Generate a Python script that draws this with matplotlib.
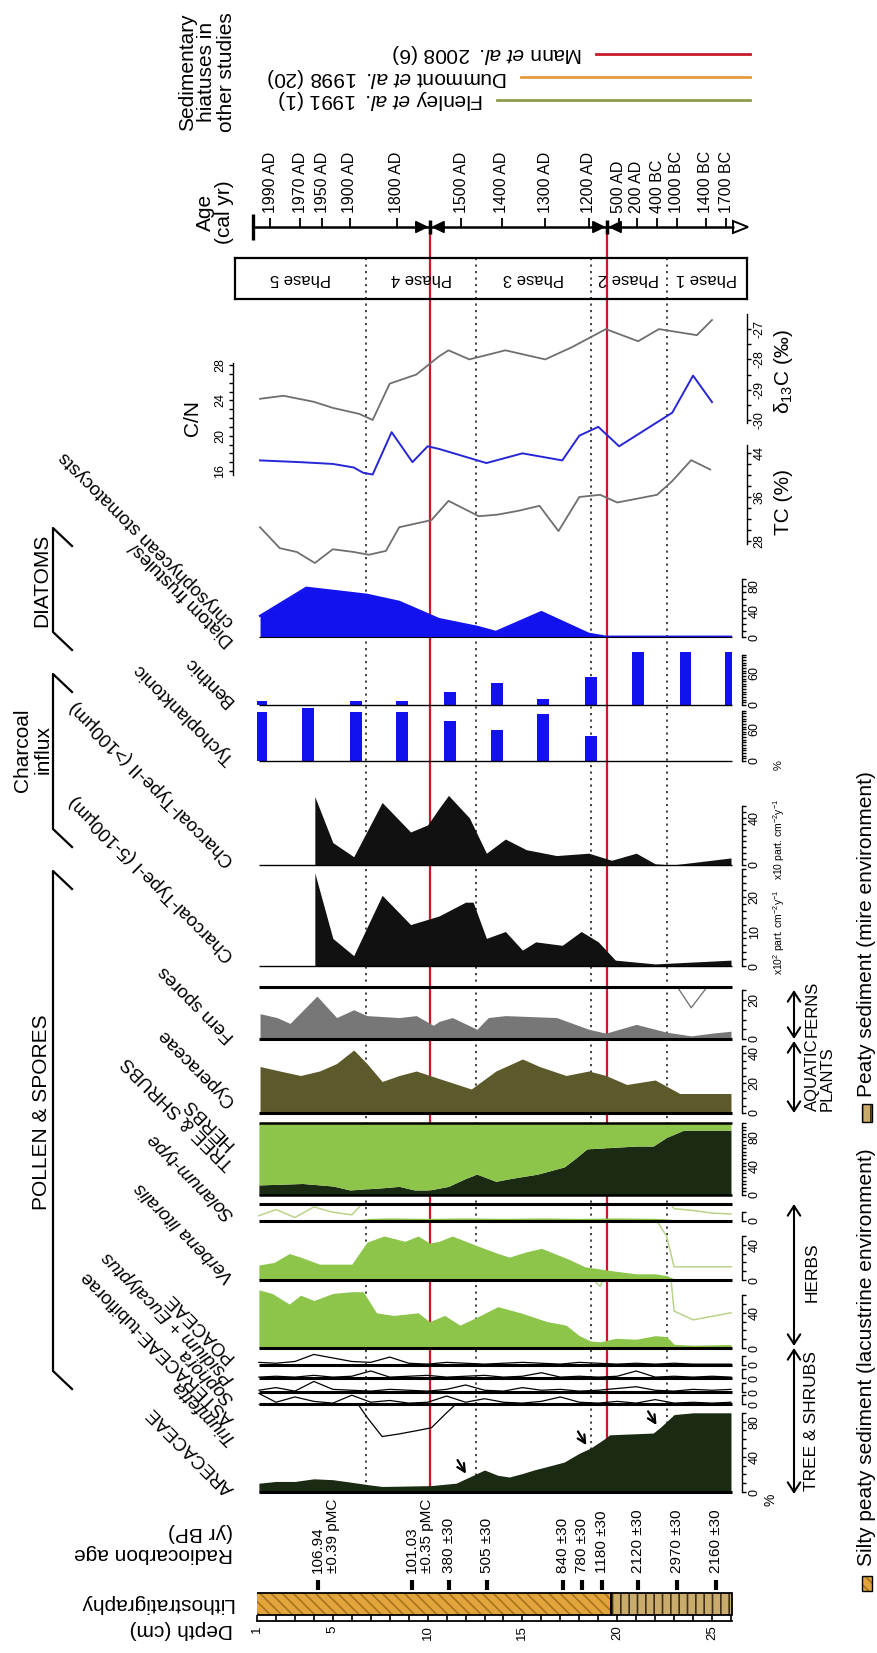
import numpy as np
import matplotlib
matplotlib.use("Agg")
import matplotlib.pyplot as plt
from matplotlib.patches import Polygon, Rectangle

plt.rcParams["font.family"] = ["Liberation Sans", "DejaVu Sans"]
plt.rcParams["mathtext.fontset"] = "custom"
plt.rcParams["mathtext.rm"] = "Liberation Sans"
plt.rcParams["mathtext.it"] = "Liberation Sans:italic"
plt.rcParams["axes.unicode_minus"] = False
plt.rcParams["hatch.linewidth"] = 1.2

# ---------------- data (depth in cm) ----------------
arec_depth = [1.1, 2, 3, 4, 5, 6, 6.8, 7.6, 8.5, 9.5, 10.2, 11, 11.5, 12.4, 13, 13.7, 14.3, 15, 15.6, 16.5,
              17.2, 18, 18.6, 19.3, 19.6, 21.9, 22.3, 23, 24, 26]
arec = [10, 12, 12, 15, 14, 11, 8.5, 6.3, 6.6, 7, 7.3, 9, 10, 19, 25, 19, 17, 21, 25, 30,
        34, 44, 50, 60, 65, 67, 74, 88, 90, 90]

thin_depth = [1.1, 2, 3, 4, 5, 6, 7, 8, 9, 10, 11, 12, 13, 14, 15, 16, 17, 18, 19, 20, 21, 22, 23, 24, 25, 26]
triumfetta = [12, 2, 8, 3, 1, 10, 2, 4, 1, 2, 9, 2, 6, 2, 1, 3, 8, 2, 1, 3, 1, 5, 1, 2, 1, 2]
asteraceae = [2, 5, 1, 12, 3, 2, 1, 3, 2, 1, 3, 8, 2, 1, 5, 2, 3, 1, 2, 4, 6, 2, 1, 3, 2, 3]
sophora = [1, 2, 1, 3, 1, 2, 8, 1, 2, 3, 1, 2, 3, 1, 2, 6, 1, 2, 1, 2, 8, 1, 2, 1, 2, 1]
psidium = [3, 2, 4, 12, 8, 4, 3, 9, 2, 1, 3, 2, 1, 2, 3, 2, 1, 3, 2, 1, 2, 1, 2, 1, 1, 1]

poa_depth = [1.1, 1.8, 2.7, 3.3, 4, 5, 6, 6.6, 7.3, 8.2, 9.5, 10.1, 10.9, 11.7, 12.6, 13.7, 14.9, 16.3, 17.3, 18,
             18.6, 19.1, 19.9, 21, 22, 22.6, 23, 24, 25, 26]
poaceae = [66, 62, 50, 60, 54, 62, 64, 64, 40, 37, 40, 30, 37, 26, 35, 47, 40, 30, 26, 14,
           8, 7, 11, 10, 14, 13, 4.2, 3.2, 3.6, 4.0]

verb_depth = [1.1, 1.9, 2.7, 3.3, 4.3, 6, 6.8, 7.7, 8.8, 9.5, 10.1, 10.6, 11.3, 12.6, 13.6, 14.3, 15.2, 16, 17.4, 18.3,
              19.9, 21, 22, 22.6, 23, 24, 25, 26]
verbena = [17, 20, 30, 26, 18, 18, 43, 50, 44, 50, 42, 44, 50, 39, 31, 26, 32, 36, 24, 15,
           10, 7, 7, 5, 1.5, 1.5, 1.5, 1.5]

sol_depth = [1.1, 2, 3, 4, 5, 6, 7, 8, 10, 12, 14, 16, 18, 20, 22, 22.6, 23, 24, 25, 26]
solanum = [0.6, 1.3, 0.4, 1.6, 1.0, 0.7, 3, 3.5, 3, 3.5, 3, 3.5, 3, 3.5, 3, 2.5, 1.4, 1.2, 0.9, 0.8]

tree_depth = [1.1, 2.3, 3.4, 5, 5.9, 7.6, 8.5, 9.3, 10.1, 11.1, 12.0, 12.6, 13.6, 14.4, 15.8, 17.2, 17.8, 18.4,
              21.0, 21.9, 22.6, 23.5, 26]
trees = [14, 15, 16, 12.5, 7, 10, 12, 7, 7, 12, 23, 29, 19, 23, 29, 39, 51, 64, 68, 68, 80, 90, 90]

cyp_depth = [1.16, 2.2, 3.3, 4.3, 5.2, 6.1, 6.8, 7.6, 8.5, 9.4, 10.6, 12.3, 13.6, 15.0, 15.9, 17.3, 18.5, 19.4,
             20.5, 22.0, 23.3, 26]
cyperaceae = [31, 28, 25, 28, 33, 42, 33, 21, 25, 28, 23, 16, 28, 36, 31, 25, 28, 25, 19, 22, 13, 13]

fern_depth = [1.16, 2.05, 2.74, 4.16, 5.2, 6.1, 6.8, 8.5, 9.4, 10.3, 10.6, 11.3, 12.6, 13.2, 14.1, 16.8, 18.5, 19.4,
              21.0, 22.6, 23.9, 25, 26]
ferns = [13, 11, 8, 22, 11, 15, 12, 11, 12, 7, 9, 11, 5, 11, 12, 11, 5, 3, 7.5, 3.5, 1.6, 3, 4]

ch1_depth = [4.05, 5.0, 6.1, 7.6, 9.1, 10.6, 12.0, 12.4, 13.1, 14.1, 15.0, 15.7, 17.1, 18.1, 19.0, 19.9, 22.0, 26]
charcoal1 = [27, 8, 3, 20.5, 12, 14.5, 18.5, 18.5, 8, 10, 4.6, 7, 6, 10, 7, 1.7, 0.6, 1.7]
ch2_depth = [4.05, 5.0, 6.1, 7.6, 9.1, 10.0, 10.6, 11.1, 12.2, 13.1, 14.1, 15.2, 16.8, 18.5, 19.7, 21.0, 22.0, 22.9, 26]
charcoal2 = [58, 19, 7, 53, 28, 34, 48, 59, 40, 10, 22, 13, 8, 10, 4, 10, 1, 0, 6]

bar_depth = [1.2, 3.7, 6.2, 8.65, 11.2, 13.65, 16.1, 18.6, 21.1, 23.6, 26.0]
tycho = [93, 100, 93, 93, 75, 58, 89, 48, 0, 0, 0]
benthic = [7, 0, 7, 7, 25, 42, 11, 52, 100, 100, 100]

diat_depth = [1.16, 3.6, 6.8, 8.5, 10.6, 12.6, 13.6, 16.0, 18.5, 19.4, 26]
diatoms = [33, 77, 66, 55, 28, 16, 8, 39, 5, 0.5, 0.5]

tc_depth = [1.16, 2.2, 3.1, 4.05, 5.0, 6.1, 6.9, 7.8, 8.5, 10.2, 11.1, 12.7, 13.7, 14.8, 15.9, 16.9, 18.0, 19.1,
            20.0, 22.1, 22.9, 23.9, 24.9]
tc = [30.5, 26.7, 26, 24, 26.5, 26, 25.5, 26.2, 30.5, 31.8, 35.3, 32.5, 32.8, 33.5, 34.4, 29.8, 36, 36.4,
      35, 36.4, 38.9, 42.7, 41]
cn_depth = [1.16, 3.3, 5.0, 6.1, 6.6, 7.1, 8.1, 9.2, 10.0, 10.6, 13.1, 15.0, 17.1, 18.0, 19.0, 20.1, 22.9, 24.0, 25.0]
cn = [17.2, 17, 16.8, 16.4, 15.8, 15.6, 20.4, 17, 18.8, 18.5, 16.9, 18, 17.2, 20, 21, 18.8, 22.6, 26.8, 23.8]
d13_depth = [1.16, 2.4, 4.0, 5.0, 6.4, 7.1, 8.0, 9.4, 10.6, 11.1, 12.2, 14.1, 16.2, 17.6, 19.4, 21.1, 22.2, 24.2, 25.0]
d13c = [-29.3, -29.2, -29.4, -29.6, -29.8, -30, -28.8, -28.5, -27.9, -27.7, -28.0, -27.7, -28, -27.6, -27.0,
        -27.4, -27.0, -27.2, -26.7]

age_depth = [1.69, 3.27, 4.43, 5.9, 8.38, 11.76, 13.92, 16.19, 18.51, 20.09, 21.04, 22.1, 23.15, 24.68, 25.74]
age_labels = ["1990 AD", "1970 AD", "1950 AD", "1900 AD", "1800 AD", "1500 AD", "1400 AD", "1300 AD", "1200 AD",
              "500 AD", "200 AD", "400 BC", "1000 BC", "1400 BC", "1700 BC"]
rc_depth = [4.22, 9.18, 11.13, 13.13, 17.14, 18.14, 19.2, 21.1, 23.15, 25.2]
rc_labels = ["106.94\n±0.39 pMC", "101.03\n±0.35 pMC", "380 ±30", "505 ±30", "840 ±30", "780 ±30",
             "1180 ±30", "2120 ±30", "2970 ±30", "2160 ±30"]
phase_bounds = [6.75, 12.55, 18.6, 22.6]
phase_names = ["Phase 5", "Phase 4", "Phase 3", "Phase 2", "Phase 1"]
hiatus_depth = [10.12, 19.46]
litho_bounds = [0.9, 19.67, 26.05]
arrow_depth = [12.1, 18.45, 22.15]
EXAG = 10

# ---------------- colours ----------------
DARK = "#1b2a12"
LGREEN = "#8cc54a"
EXGREEN = "#b9d48a"
OLIVE = "#5c5a2a"
GREY = "#777777"
BLUE = "#1212ee"
RED = "#c8192b"

W, H = 878, 1653
X_D1, PX_CM = 257, 18.96
PT = 0.72


def dep(px):
    return 1 + (px - X_D1) / PX_CM


fig = plt.figure(figsize=(W / 100, H / 100), dpi=100)


def add_ax(top, bottom, left=257, right=742, z=1):
    ax = fig.add_axes([left / W, 1 - bottom / H, (right - left) / W, (bottom - top) / H], zorder=z)
    ax.patch.set_visible(False)
    ax.set_xlim(dep(left), dep(right))
    for s in ax.spines.values():
        s.set_visible(False)
    ax.set_xticks([])
    ax.set_yticks([])
    return ax


def value_axis(ax, ticks, labels, side="right", offset=0):
    sp = ax.spines[side]
    sp.set_visible(True)
    sp.set_linewidth(1.0)
    sp.set_bounds(ticks[0], ticks[-1])
    if offset:
        sp.set_position(("outward", offset * PT))
    ax.yaxis.set_ticks_position(side)
    ax.set_yticks(ticks)
    ax.set_yticklabels([f"{t:g}" if t in labels else "" for t in ticks])
    ax.tick_params(axis="y", direction="out", length=4 * PT, width=1, pad=2, labelsize=9, labelrotation=90)
    for t in ax.get_yticklabels():
        t.set_va("center")


def panel(base, top, scale, ticks, labels, base_lw=2.2):
    ax = add_ax(top, base)
    ax.set_ylim(0, (base - top) / scale)
    value_axis(ax, ticks, labels)
    ax.hlines(0, 1.1, 26.05, color="k", lw=base_lw, zorder=4, clip_on=False)
    return ax


def top_line(ax, lw=2.2):
    ax.hlines(ax.get_ylim()[1], 1.1, 26.05, color="k", lw=lw, zorder=4, clip_on=False)


# ---------------- background lines (hiatuses, phase limits) ----------------
bg = add_ax(214, 1492, left=235, right=747, z=-1)
bg.set_ylim(1492, 214)
bg.vlines(hiatus_depth, 227, 1492, color=RED, lw=1.6)
bg.vlines(phase_bounds, 258, 1492, colors="#333333", linestyles=(0, (1.2, 2.4)), lw=1.3)

# ---------------- pollen ----------------
ax = panel(1492, 1404, 0.88, list(range(0, 100, 10)), [0, 40, 80])
ax.fill_between(arec_depth, 0, arec, color=DARK, lw=0)
ax.plot(arec_depth, np.array(arec) * EXAG, color="k", lw=0.9)
for d in arrow_depth:
    v = np.interp(d, arec_depth, arec)
    ax.annotate("", xy=(d, v + 2), xytext=(d - 0.6, v + 23),
                arrowprops=dict(arrowstyle="->", lw=1.6, mutation_scale=14), annotation_clip=False)

for (base, top), vals in zip([(1404, 1392), (1392, 1378), (1378, 1365), (1365, 1348)],
                             [triumfetta, asteraceae, sophora, psidium]):
    ax = panel(base, top, 0.88, [0, 10], [0])
    ax.plot(thin_depth, vals, color="k", lw=0.9)

ax = panel(1348, 1280, 0.88, list(range(0, 70, 10)), [0, 40])
ax.fill_between(poa_depth, 0, poaceae, color=LGREEN, lw=0)
ax.plot(poa_depth, np.array(poaceae) * EXAG, color=EXGREEN, lw=1.1)

ax = panel(1280, 1221, 0.88, list(range(0, 60, 10)), [0, 40])
ax.fill_between(verb_depth, 0, verbena, color=LGREEN, lw=0)
ax.plot(verb_depth, np.array(verbena) * EXAG, color=EXGREEN, lw=1.1)

ax = panel(1221, 1204, 0.88, [0, 10], [0])
ax.fill_between(sol_depth, 0, solanum, color=LGREEN, lw=0)
ax.plot(sol_depth, np.array(solanum) * EXAG, color=EXGREEN, lw=1.1)
top_line(ax)

ax = panel(1195, 1123, 0.72, list(range(0, 105, 5)), [0, 40, 80], base_lw=1.8)
ax.fill_between(tree_depth, 0, trees, color=DARK, lw=0)
ax.fill_between(tree_depth, trees, 100, color=LGREEN, lw=0)
top_line(ax, lw=1.8)

ax = panel(1113, 1039, 1.5, list(range(0, 50, 5)), [0, 20, 40])
ax.fill_between(cyp_depth, 0, cyperaceae, color=OLIVE, lw=0)

ax = panel(1039, 987, 1.95, list(range(0, 30, 5)), [0, 20])
ax.fill_between(fern_depth, 0, ferns, color=GREY, lw=0)
ax.plot(fern_depth, np.array(ferns) * EXAG, color=GREY, lw=1.0)
top_line(ax)

# ---------------- charcoal ----------------
ax = panel(966, 865, 3.45, list(range(0, 30, 2)), [0, 10, 20], base_lw=1.0)
ax.fill_between(ch1_depth, 0, charcoal1, color="#111111", lw=0)
ax = panel(865, 761, 1.18, list(range(0, 55, 5)), [0, 40], base_lw=1.0)
ax.fill_between(ch2_depth, 0, charcoal2, color="#111111", lw=0)

# ---------------- diatoms ----------------
for (base, top), vals in zip([(761, 708), (705, 652)], [tycho, benthic]):
    ax = panel(base, top, 0.53, list(range(0, 100, 5)), [0, 60], base_lw=1.0)
    bars = ax.bar(bar_depth, vals, width=0.63, color=BLUE, lw=0)
    clip = Rectangle((1, 0), 25.05, 200, transform=ax.transData)
    for b in bars:
        b.set_clip_path(clip)

ax = panel(637, 575, 0.64, list(range(0, 100, 10)), [0, 40, 80], base_lw=0.8)
ax.fill_between(diat_depth, 0, diatoms, color=BLUE, lw=0)
ax.plot(diat_depth, diatoms, color=BLUE, lw=1.6)

# ---------------- geochemistry ----------------
def calib_ax(row0, v0, pxu, top=300, bottom=600):
    a = add_ax(top, bottom)
    a.set_ylim(v0 - (bottom - row0) / pxu, v0 + (row0 - top) / pxu)
    return a


gt = calib_ax(541, 28, 5.5)
gt.plot(tc_depth, tc, color="#6f6f6f", lw=1.3)
value_axis(gt, list(range(28, 46, 2)), [28, 36, 44], offset=5)
gt.spines["right"].set_bounds(27.5, 45.5)

gc = calib_ax(471, 16, 8.83)
gc.plot(cn_depth, cn, color="#2626d6", lw=1.4)
value_axis(gc, list(range(16, 29)), [16, 20, 24, 28], side="left", offset=24)
gc.spines["left"].set_bounds(15.5, 28.2)

gd = calib_ax(420, -30, 30.3)
gd.plot(d13_depth, d13c, color="#6f6f6f", lw=1.3)
value_axis(gd, list(np.arange(-30, -26.9, 0.5)), [-30, -29, -28, -27], offset=5)
gd.spines["right"].set_bounds(-30.1, -26.5)

# ---------------- phases ----------------
ph = add_ax(258, 299, left=235, right=747)
for s in ph.spines.values():
    s.set_visible(True)
    s.set_linewidth(1.6)
edges = [ph.get_xlim()[0]] + phase_bounds + [ph.get_xlim()[1]]
for name, a, b in zip(phase_names, edges[:-1], edges[1:]):
    ph.text((a + b) / 2, 0.5, name, rotation=180, ha="center", va="center", fontsize=12)

# ---------------- age axis ----------------
ag = add_ax(200, 245, left=235, right=760)
ag.set_ylim(245, 200)
ag.hlines(227, dep(253), dep(734), color="k", lw=1.8)
ag.vlines(dep(253), 214, 240, color="k", lw=2.4)
ag.vlines(age_depth, 218, 227, color="k", lw=1.3)
ag.add_patch(Polygon([(dep(733), 221), (dep(748), 227), (dep(733), 233)], closed=True,
                     fc="white", ec="k", lw=1.4))
for h in hiatus_depth:
    ag.add_patch(Polygon([(h - 0.75, 221.5), (h - 0.15, 227), (h - 0.75, 232.5)], closed=True, fc="k", ec="k"))
    ag.add_patch(Polygon([(h + 0.75, 221.5), (h + 0.15, 227), (h + 0.75, 232.5)], closed=True, fc="k", ec="k"))
    ag.vlines(h, 220, 234, color="k", lw=2.5)
for d, lab in zip(age_depth, age_labels):
    ag.text(d, 213, lab, rotation=90, ha="left", va="center", rotation_mode="anchor", fontsize=11.5)

# ---------------- depth axis, lithology, radiocarbon ----------------
dx = add_ax(1585, 1621)
dx.set_ylim(1621, 1585)
dx.broken_barh([(litho_bounds[0], litho_bounds[1] - litho_bounds[0])], (1593, 22),
               facecolors="#e2a43c", edgecolor="#a8741a", hatch="\\\\\\", lw=0)
dx.broken_barh([(litho_bounds[1], litho_bounds[2] - litho_bounds[1])], (1593, 22),
               facecolors="#c9ab6c", edgecolor="#3e3018", hatch="||", lw=0)
for a, b in zip(litho_bounds[:-1], litho_bounds[1:]):
    dx.add_patch(Rectangle((a, 1593), b - a, 22, fill=False, ec="k", lw=1.3))
dx.spines["bottom"].set_visible(True)
dx.spines["bottom"].set_linewidth(1.3)
dx.spines["bottom"].set_bounds(1, 26.05)
dx.set_xticks(range(1, 27))
dx.set_xticklabels([str(t) if t in (1, 5, 10, 15, 20, 25) else "" for t in range(1, 27)])
dx.tick_params(axis="x", direction="in", length=6 * PT, width=1.2, labelsize=9.5, labelrotation=90, pad=3)

rc = add_ax(1490, 1592)
rc.set_ylim(1592, 1490)
rc.vlines(rc_depth, 1580, 1590, color="k", lw=3)
for d, lab in zip(rc_depth, rc_labels):
    rc.text(d - 7 / PX_CM, 1573, lab, rotation=90, ha="left", va="top", rotation_mode="anchor",
            fontsize=11, linespacing=1.05)

# ---------------- text overlay ----------------
ov = fig.add_axes([0, 0, 1, 1], zorder=5)
ov.patch.set_visible(False)
ov.set_xlim(0, W)
ov.set_ylim(H, 0)
ov.axis("off")

for txt, y in [("Depth (cm)", 1630), ("Lithostratigraphy", 1604), ("Radiocarbon age\n(yr BP)", 1543)]:
    ov.text(233, y, txt, rotation=180, ha="left", va="center", rotation_mode="anchor", fontsize=15,
            multialignment="left", linespacing=1.1)

names = [("ARECACEAE", 1488, "normal"), ("Triumfetta", 1438, "italic"), ("ASTERACEAE-tubiflorae", 1418, "normal"),
         ("Sophora", 1398, "italic"), ("Psidium + Eucalyptus", 1378, "italic"), ("POACEAE", 1356, "normal"),
         ("Verbena litoralis", 1276, "italic"), ("Solanum-type", 1214, "italic"), ("TREE & SHRUBS", 1163, "normal"),
         ("HERBS", 1143, "normal"), ("Cyperaceae", 1100, "normal"), ("Fern spores", 1036, "normal"),
         ("Charcoal-Type-I (5-100µm)", 955, "normal"), ("Charcoal-Type-II (>100µm)", 860, "normal"),
         ("Tychoplanktonic", 758, "normal"), ("Benthic", 700, "normal"), ("Diatom frustules/", 640, "normal"),
         ("chrysophycean stomatocysts", 621, "normal")]
for txt, y, st in names:
    ov.text(235, y, txt, rotation=135, ha="left", va="baseline", rotation_mode="anchor", fontsize=13.5,
            style=st)

# group brackets
for y0, y1 in [(871, 1371), (674, 829), (528, 632)]:
    ov.plot([72, 53, 53, 72], [y0 + 18, y0, y1, y1 + 18], color="k", lw=1.6)
ov.text(42, 1112, "POLLEN & SPORES", rotation=90, ha="center", va="center", fontsize=15)
ov.text(33, 750, "Charcoal\ninflux", rotation=90, ha="center", va="center", fontsize=15,
        multialignment="center", linespacing=1.1)
ov.text(42, 580, "DIATOMS", rotation=90, ha="center", va="center", fontsize=15)

# geochem labels
ov.text(193, 418, "C/N", rotation=90, ha="center", va="center", fontsize=15)
ov.text(784, 502, "TC (%)", rotation=90, ha="center", va="center", fontsize=15)
ov.text(784, 372, "δ$_{13}$C (‰)", rotation=90, ha="center", va="center", fontsize=15)

# unit labels
ov.text(771, 1500, "%", rotation=90, ha="center", va="center", fontsize=10)
ov.text(779, 975, r"x10$^{2}$ part. cm$^{-2}$y$^{-1}$", rotation=90, ha="left", va="center",
        rotation_mode="anchor", fontsize=7.5)
ov.text(779, 880, r"x10 part. cm$^{-2}$y$^{-1}$", rotation=90, ha="left", va="center",
        rotation_mode="anchor", fontsize=7.5)
ov.text(779, 770, "%", rotation=90, ha="left", va="center", rotation_mode="anchor", fontsize=8)

# ecological groups
for y0, y1 in [(1494, 1348), (1346, 1204), (1113, 1041), (1039, 990)]:
    ov.annotate("", xy=(794, y1), xytext=(794, y0),
                arrowprops=dict(arrowstyle="<->,head_length=0.7,head_width=0.45", lw=1.5, shrinkA=0, shrinkB=0))
ov.text(812, 1421, "TREE & SHRUBS", rotation=90, ha="center", va="center", fontsize=12.5)
ov.text(812, 1272, "HERBS", rotation=90, ha="center", va="center", fontsize=12.5)
ov.text(805, 1111, "AQUATIC\nPLANTS", rotation=90, ha="left", va="top", rotation_mode="anchor",
        fontsize=12, linespacing=1.0)
ov.text(805, 1037, "FERNS", rotation=90, ha="left", va="top", rotation_mode="anchor", fontsize=12)

# sediment legend
ov.add_patch(Rectangle((862, 1576), 10, 15, fc="#e2a43c", ec="#a8741a", hatch="\\\\\\", lw=0))
ov.add_patch(Rectangle((862, 1576), 10, 15, fill=False, ec="k", lw=1))
ov.text(867, 1566, "Silty peaty sediment (lacustrine environment)", rotation=90, ha="left", va="center",
        rotation_mode="anchor", fontsize=15)
ov.add_patch(Rectangle((862, 1104), 10, 18, fc="#c9ab6c", ec="#3e3018", hatch="||", lw=0))
ov.add_patch(Rectangle((862, 1104), 10, 18, fill=False, ec="k", lw=1))
ov.text(867, 1097, "Peaty sediment (mire environment)", rotation=90, ha="left", va="center",
        rotation_mode="anchor", fontsize=15)

# age title and hiatus legend
ov.text(215, 212, "Age\n(cal yr)", rotation=90, ha="center", va="center", fontsize=15,
        multialignment="center", linespacing=1.05)
ov.text(207, 72, "Sedimentary\nhiatuses in\nother studies", rotation=90, ha="center", va="center",
        fontsize=15, multialignment="center", linespacing=1.05)
for y, x0, col, lab in [(54, 596, RED, r"Mann $\it{et\ al.}$ 2008 (6)"),
                        (77, 521, "#e39a3b", r"Dummont $\it{et\ al.}$ 1998 (20)"),
                        (100, 497, "#8c9c4e", r"Flenley $\it{et\ al.}$ 1991 (1)")]:
    ov.plot([x0, 750], [y, y], color=col, lw=2)
    ov.text(x0 - 13, y, lab, rotation=180, ha="left", va="center", rotation_mode="anchor", fontsize=15)

fig.savefig("out.png", dpi=100, facecolor="white")
